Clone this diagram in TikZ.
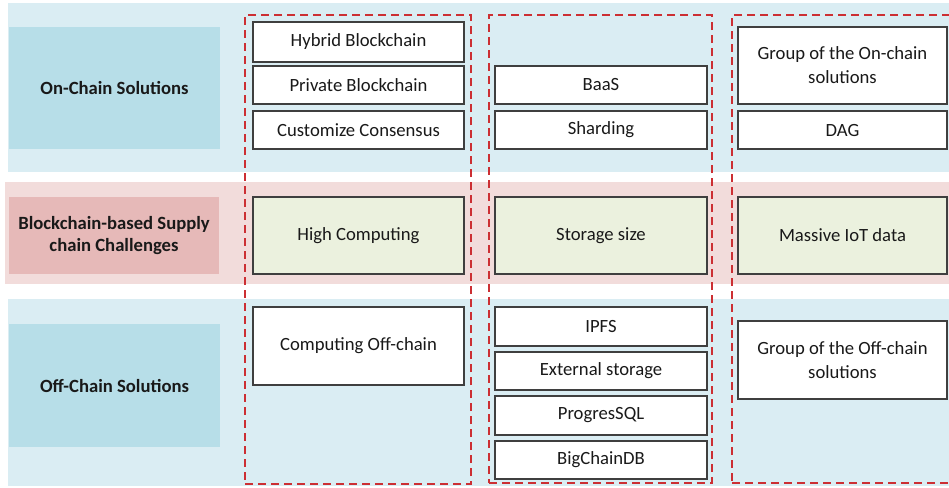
\documentclass[tikz,border=0pt]{standalone}
\usepackage{fontspec}
\setmainfont{Carlito}
\usetikzlibrary{fit}
\definecolor{bandblue}{HTML}{DAEDF3}
\definecolor{labblue}{HTML}{B7DEE8}
\definecolor{bandpink}{HTML}{F2DCDB}
\definecolor{labpink}{HTML}{E6B9B8}
\definecolor{boxgreen}{HTML}{EBF1DE}
\definecolor{dashred}{HTML}{CC2F33}
\definecolor{edge}{HTML}{3F3F3F}
\tikzset{
  band/.style={fill=#1, draw=none, inner sep=0pt},
  label/.style={fill=#1, draw=none, inner sep=0pt},
  ltext/.style={font=\fontsize{14}{16.5}\selectfont\bfseries, align=center, text=black!90},
  wbox/.style={fill=white, draw=edge, line width=0.8pt, inner sep=0pt},
  gbox/.style={fill=boxgreen, draw=edge, line width=0.8pt, inner sep=0pt},
  btext/.style={font=\fontsize{14}{18}\selectfont, align=center, text=black!90},
  col/.style={draw=dashred, line width=1.2pt, dash pattern=on 6pt off 3.75pt, inner sep=0pt}
}
\begin{document}
\begin{tikzpicture}[x=0.75pt,y=-0.75pt]
\useasboundingbox (0,0) rectangle (949,487);
\clip (0,0) rectangle (949,487);
\fill[white] (0,0) rectangle (949,487);
% bands
\node[band=bandblue, fit={(8,3)(949,172)}] (topband) {};
\node[band=bandpink, fit={(5,182)(949,284)}] (midband) {};
\node[band=bandblue, fit={(8,299)(949,486)}] (botband) {};
% left labels
\node[label=labblue, fit={(9,27)(220,149)}] (onl) {};
\node[ltext] at (onl.center) {On-Chain Solutions};
\node[label=labpink, fit={(9,197)(219,274)}] (chl) {};
\node[ltext] at (chl.center) {Blockchain-based Supply\\chain Challenges};
\node[label=labblue, fit={(9,324)(220,447)}] (offl) {};
\node[ltext] at (offl.center) {Off-Chain Solutions};
% column 1
\node[wbox, fit={(253,22)(464,62)}] (hyb) {};
\node[btext] at (hyb.center) {Hybrid Blockchain};
\node[wbox, fit={(253,66)(464,104)}] (priv) {};
\node[btext] at (priv.center) {Private Blockchain};
\node[wbox, fit={(253,111)(464,149)}] (cust) {};
\node[btext] at (cust.center) {Customize Consensus};
\node[gbox, fit={(253,197)(464,274)}] (hc) {};
\node[btext] at (hc.center) {High Computing};
\node[wbox, fit={(253,307)(464,385)}] (coff) {};
\node[btext] at (coff.center) {Computing Off-chain};
% column 2
\node[wbox, fit={(495,66)(707,104)}] (baas) {};
\node[btext] at (baas.center) {BaaS};
\node[wbox, fit={(495,111)(707,149)}] (shard) {};
\node[btext] at (shard.center) {Sharding};
\node[gbox, fit={(495,197)(707,274)}] (ss) {};
\node[btext] at (ss.center) {Storage size};
\node[wbox, fit={(495,307)(707,346)}] (ipfs) {};
\node[btext] at (ipfs.center) {IPFS};
\node[wbox, fit={(495,352)(707,390)}] (ext) {};
\node[btext] at (ext.center) {External storage};
\node[wbox, fit={(495,396)(707,435)}] (pg) {};
\node[btext] at (pg.center) {ProgresSQL};
\node[wbox, fit={(495,441)(707,479)}] (bc) {};
\node[btext] at (bc.center) {BigChainDB};
% column 3
\node[wbox, fit={(738,27)(947,104)}] (gon) {};
\node[btext] at (gon.center) {Group of the On-chain\\solutions};
\node[wbox, fit={(738,111)(947,149)}] (dag) {};
\node[btext] at (dag.center) {DAG};
\node[gbox, fit={(738,197)(947,274)}] (iot) {};
\node[btext] at (iot.center) {Massive IoT data};
\node[wbox, fit={(738,321)(947,399)}] (goff) {};
\node[btext] at (goff.center) {Group of the Off-chain\\solutions};
% dashed columns
\node[col, fit={(245,15)(471,484)}] (c1) {};
\node[col, fit={(489,15)(712,483)}] (c2) {};
\node[col, fit={(732,15)(958,483)}] (c3) {};
\end{tikzpicture}
\end{document}
